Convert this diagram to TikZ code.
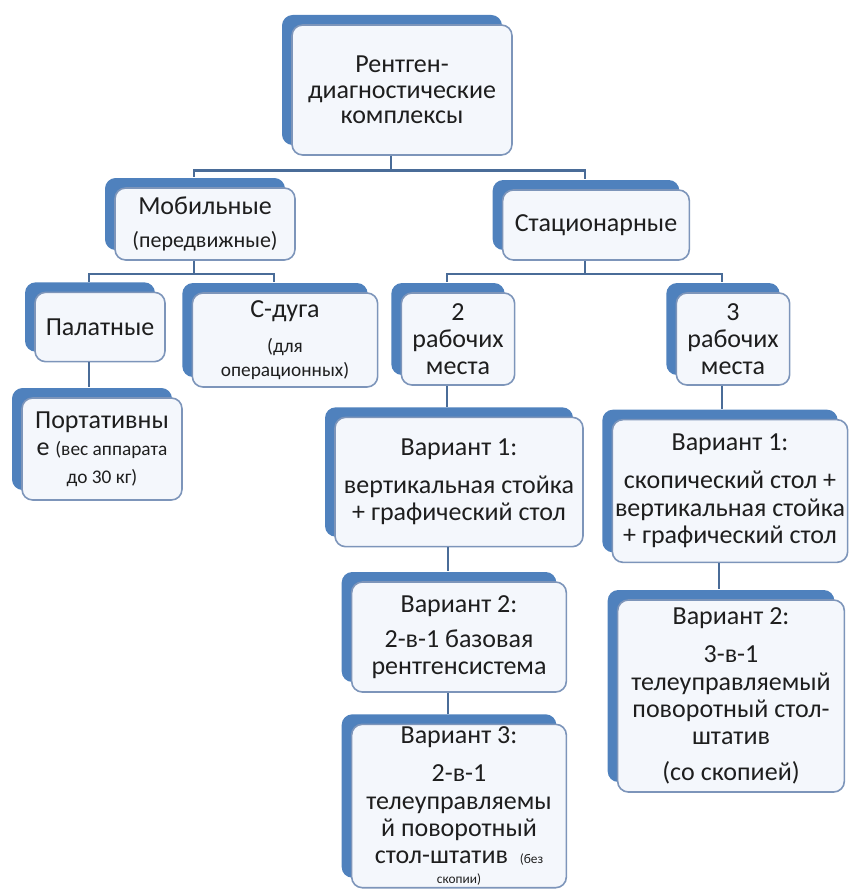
\documentclass[tikz,border=0pt]{standalone}
\usepackage{fontspec}
\setmainfont{Carlito}
\usetikzlibrary{shadows}

\definecolor{tabblue}{HTML}{4F81BD}
\definecolor{boxfill}{HTML}{F4F7FC}
\definecolor{boxline}{HTML}{7D95BA}
\definecolor{linkcol}{HTML}{4A6C98}
\definecolor{txtcol}{HTML}{1E1E1E}

\newcommand{\smalltxt}[1]{{\fontsize{14.5}{16}\selectfont #1}}
\newcommand{\tinytxt}[1]{{\fontsize{10}{12}\selectfont #1}}

\begin{document}
\begin{tikzpicture}[x=0.75pt, y=-0.75pt,
    box/.style={draw=boxline, line width=1.2pt, fill=boxfill, rounded corners=8pt,
        align=center, text=txtcol, inner sep=2pt,
        font=\fontsize{19.5}{20.5}\selectfont,
        general shadow={fill=tabblue, shadow xshift=-7.5pt, shadow yshift=7.5pt}},
    link/.style={draw=linkcol, line width=1.6pt}]
    \useasboundingbox (0,0) rectangle (849,892);

    % Уровень 1
    \node[box, minimum width=165pt, minimum height=97.5pt,
          font=\fontsize{19.5}{19}\selectfont] (root) at (402,90)
        {Рентген-\\диагностические\\комплексы};

    % Уровень 2
    \node[box, minimum width=135pt, minimum height=54pt] (mob) at (205,224)
        {Мобильные\\[4pt]{\fontsize{16.5}{18}\selectfont (передвижные)}};
    \node[box, minimum width=140pt, minimum height=52.5pt] (stat) at (596,225)
        {Стационарные};

    % Уровень 3
    \node[box, minimum width=97.5pt, minimum height=52pt] (pal) at (100,327)
        {Палатные};
    \node[box, minimum width=139pt, minimum height=70.5pt] (carm) at (285,340)
        {С-дуга\\[6pt]\smalltxt{(для}\\[-3pt]\smalltxt{операционных)}};
    \node[box, minimum width=85pt, minimum height=69pt] (work2) at (458,339)
        {2\\рабочих\\места};
    \node[box, minimum width=85pt, minimum height=69pt] (work3) at (733,339)
        {3\\рабочих\\места};

    % Уровень 4
    \node[box, minimum width=120pt, minimum height=76.5pt] (port) at (102,449)
        {Портативны\\е \smalltxt{(вес аппарата}\\\smalltxt{до 30 кг)}};
    \node[box, minimum width=186pt, minimum height=97pt] (var1a) at (459,482)
        {Вариант 1:\\[8pt]вертикальная стойка\\+ графический стол};
    \node[box, minimum width=176pt, minimum height=107pt] (var1b) at (730,491)
        {Вариант 1:\\[8pt]скопический стол +\\вертикальная стойка\\+ графический стол};

    % Уровень 5
    \node[box, minimum width=161pt, minimum height=82.5pt] (var2a) at (459,637)
        {Вариант 2:\\[6pt]2-в-1 базовая\\рентгенсистема};
    \node[box, minimum width=170pt, minimum height=144pt] (var2b) at (731,696)
        {Вариант 2:\\[8pt]3-в-1\\телеуправляемый\\поворотный стол-\\штатив\\[6pt](со скопией)};
    \node[box, minimum width=161pt, minimum height=121.5pt] (var3a) at (459,806)
        {Вариант 3:\\[8pt]2-в-1\\телеуправляемы\\й поворотный\\стол-штатив~~\tinytxt{(без}\\[-6pt]\tinytxt{скопии)}};

    % Точки соединения
    \foreach \n in {root,mob,stat,pal,carm,work2,work3,port,var1a,var1b,var2a,var2b,var3a} {
        \coordinate (\n-b) at ([xshift=-8pt]\n.south);
        \coordinate (\n-t) at ([xshift=-8pt,yshift=7.5pt]\n.north);
    }

    % Связи
    \draw[link] (root-b) -- ++(0,-11pt) -| (mob-t);
    \draw[link] (root-b) -- ++(0,-11pt) -| (stat-t);
    \draw[link] (mob-b) -- ++(0,-10pt) -| (pal-t);
    \draw[link] (mob-b) -- ++(0,-10pt) -| (carm-t);
    \draw[link] (stat-b) -- ++(0,-10pt) -| (work2-t);
    \draw[link] (stat-b) -- ++(0,-10pt) -| (work3-t);
    \draw[link] (pal-b) -- (pal-b |- port-t);
    \draw[link] (work2-b) -- (work2-b |- var1a-t);
    \draw[link] (work3-b) -- (work3-b |- var1b-t);
    \draw[link] (var1a-b) -- (var1a-b |- var2a-t);
    \draw[link] (var2a-b) -- (var2a-b |- var3a-t);
    \draw[link] (var1b-b) -- (var1b-b |- var2b-t);
\end{tikzpicture}
\end{document}
